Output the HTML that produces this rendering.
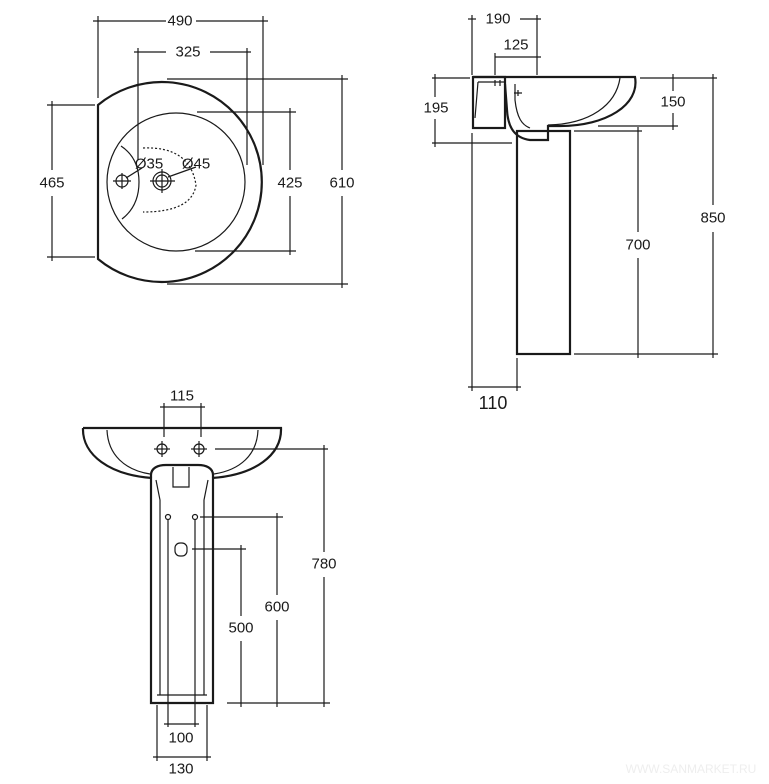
<!DOCTYPE html>
<html><head><meta charset="utf-8"><style>
html,body{margin:0;padding:0;background:#fff;}
svg{display:block}
text{font-family:"Liberation Sans",Arial,sans-serif;font-size:15px;fill:#1a1a1a;text-anchor:middle;dominant-baseline:central}
</style></head><body>
<svg width="769" height="784" viewBox="0 0 769 784" xmlns="http://www.w3.org/2000/svg">
<g stroke="#1a1a1a" stroke-width="1.2" fill="none">
<!-- ===== TOP VIEW ===== -->
<line x1="93" y1="21" x2="166" y2="21"/><line x1="196" y1="21" x2="268" y2="21"/>
<line x1="98" y1="16" x2="98" y2="98"/><line x1="263" y1="16" x2="263" y2="165"/>
<line x1="134" y1="52" x2="166" y2="52"/><line x1="210" y1="52" x2="251" y2="52"/>
<line x1="138" y1="48" x2="138" y2="160"/><line x1="247" y1="48" x2="247" y2="165"/>
<path d="M98,105 A100,100 0 1 1 98,259 Z" stroke-width="2.2"/>
<circle cx="176" cy="182" r="69"/>
<line x1="167" y1="79" x2="348" y2="79"/><line x1="167" y1="284" x2="348" y2="284"/>
<line x1="342" y1="75" x2="342" y2="170"/><line x1="342" y1="196" x2="342" y2="288"/>
<line x1="197" y1="112" x2="296" y2="112"/><line x1="195" y1="251" x2="296" y2="251"/>
<line x1="290" y1="108" x2="290" y2="170"/><line x1="290" y1="196" x2="290" y2="255"/>
<line x1="47" y1="105" x2="95" y2="105"/><line x1="47" y1="257" x2="95" y2="257"/>
<line x1="52" y1="101" x2="52" y2="170"/><line x1="52" y1="196" x2="52" y2="261"/>
<circle cx="122" cy="181" r="6"/>
<line x1="113" y1="181" x2="131" y2="181"/><line x1="122" y1="173" x2="122" y2="189"/>
<circle cx="162" cy="181" r="9"/><circle cx="162" cy="181" r="6"/>
<line x1="150" y1="181" x2="175" y2="181"/><line x1="162" y1="169" x2="162" y2="193"/>
<line x1="126" y1="178" x2="142" y2="168"/><line x1="168" y1="177" x2="196" y2="167"/>
<path d="M121,146 Q139,158 139,182 Q139,206 122,219"/>
<path d="M143,148 Q190,146 196,185 Q192,212 143,212" stroke-dasharray="2,2"/>
<!-- ===== SIDE VIEW ===== -->
<line x1="468" y1="19" x2="476" y2="19"/><line x1="520" y1="19" x2="541" y2="19"/>
<line x1="472" y1="15" x2="472" y2="75"/><line x1="537" y1="15" x2="537" y2="75"/>
<line x1="495" y1="57" x2="541" y2="57"/><line x1="495" y1="53" x2="495" y2="75"/>
<path d="M473,77 H635 C640,105 606,126 560,126 L548,126 L548,140 L530,140 C515,138 508,128 507,110 L505,84" stroke-width="2.2"/>
<rect x="473" y="77" width="32" height="51" stroke-width="2.2"/>
<path d="M620,78 C616,105 590,124 548,125"/>
<path d="M515,84 L515,100 C517,118 522,125 530,128"/>
<path d="M478,82 L475,118 M478,82 L505,82 M495,80 L495,86 M500,80 L500,86 M518,90 L518,96 M514,93 L522,93"/>
<rect x="517" y="131" width="53" height="223" stroke-width="2.2"/>
<line x1="432" y1="78" x2="470" y2="78"/><line x1="432" y1="143" x2="512" y2="143"/>
<line x1="435" y1="74" x2="435" y2="97"/><line x1="435" y1="119" x2="435" y2="147"/>
<line x1="640" y1="78" x2="717" y2="78"/><line x1="598" y1="126" x2="678" y2="126"/>
<line x1="673" y1="74" x2="673" y2="91"/><line x1="673" y1="113" x2="673" y2="130"/>
<line x1="713" y1="74" x2="713" y2="205"/><line x1="713" y1="232" x2="713" y2="358"/>
<line x1="638" y1="127" x2="638" y2="232"/><line x1="638" y1="258" x2="638" y2="358"/>
<line x1="574" y1="131" x2="642" y2="131"/>
<line x1="574" y1="354" x2="718" y2="354"/>
<line x1="468" y1="387" x2="521" y2="387"/>
<line x1="472" y1="133" x2="472" y2="391"/><line x1="517" y1="358" x2="517" y2="391"/>
<!-- ===== FRONT VIEW ===== -->
<line x1="160" y1="407" x2="205" y2="407"/>
<line x1="164" y1="403" x2="164" y2="437"/><line x1="201" y1="403" x2="201" y2="437"/>
<path d="M83,428 L281,428 C282,455 255,475 212,478 M83,428 C82,455 110,475 152,478" stroke-width="2.2"/>
<path d="M107,430 C108,455 125,470 150,474 M258,430 C257,455 240,470 214,474"/>
<circle cx="162" cy="449" r="5"/><line x1="154" y1="449" x2="170" y2="449"/><line x1="162" y1="441" x2="162" y2="457"/>
<circle cx="199" cy="449" r="5"/><line x1="191" y1="449" x2="207" y2="449"/><line x1="199" y1="441" x2="199" y2="457"/>
<path d="M151,703 L151,475 C151,468 158,465 166,465 L198,465 C206,465 213,468 213,475 L213,703 Z" stroke-width="2.2"/>
<path d="M156,480 L160,500 L160,695 M208,480 L204,500 L204,695 M157,695 L207,695"/>
<path d="M173,467 L173,487 L189,487 L189,467"/>
<circle cx="168" cy="517" r="2.5"/><circle cx="195" cy="517" r="2.5"/>
<rect x="175" y="543" width="12" height="13" rx="5"/>
<line x1="215" y1="449" x2="328" y2="449"/>
<line x1="324" y1="445" x2="324" y2="552"/><line x1="324" y1="577" x2="324" y2="707"/>
<line x1="200" y1="517" x2="283" y2="517"/>
<line x1="277" y1="513" x2="277" y2="595"/><line x1="277" y1="620" x2="277" y2="707"/>
<line x1="192" y1="549" x2="246" y2="549"/>
<line x1="241" y1="545" x2="241" y2="616"/><line x1="241" y1="641" x2="241" y2="707"/>
<line x1="227" y1="703" x2="330" y2="703"/>
<line x1="168" y1="520" x2="168" y2="727"/><line x1="195" y1="520" x2="195" y2="727"/>
<line x1="164" y1="724" x2="199" y2="724"/>
<line x1="157" y1="705" x2="157" y2="761"/><line x1="207" y1="705" x2="207" y2="761"/>
<line x1="153" y1="757" x2="211" y2="757"/>
</g>
<g>
<text x="180" y="21">490</text>
<text x="188" y="52">325</text>
<text x="149" y="164">Ø35</text>
<text x="196" y="164">Ø45</text>
<text x="342" y="183">610</text>
<text x="290" y="183">425</text>
<text x="52" y="183">465</text>
<text x="498" y="19">190</text>
<text x="516" y="45">125</text>
<text x="436" y="108">195</text>
<text x="673" y="102">150</text>
<text x="713" y="218">850</text>
<text x="638" y="245">700</text>
<text x="493" y="403" style="font-size:18px">110</text>
<text x="182" y="396">115</text>
<text x="324" y="564">780</text>
<text x="277" y="607">600</text>
<text x="241" y="628">500</text>
<text x="181" y="738">100</text>
<text x="181" y="769">130</text>
<text x="691" y="769" style="font-size:12px;fill:#eee">WWW.SANMARKET.RU</text>
</g>
</svg>
</body></html>
